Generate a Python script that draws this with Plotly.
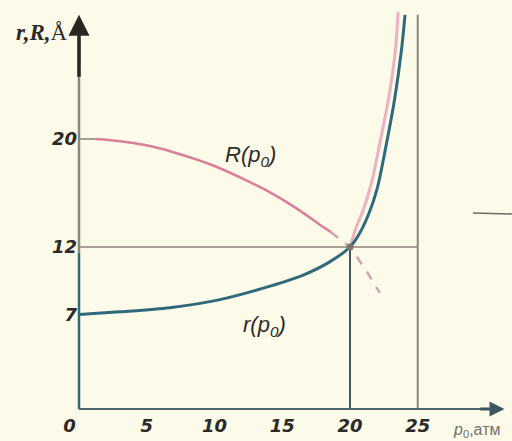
import plotly.graph_objects as go

# ---- data ----
p_r = [0, 3, 6.7, 10.4, 14.1, 16.5, 18.5, 20, 20.7, 21.4, 22, 22.7, 23.3, 23.8, 24.06]
r_vals = [7, 7.2, 7.5, 8.1, 9.1, 9.9, 10.9, 12, 13.0, 14.5, 16.3, 19.7, 23.0, 26.6, 29.2]

p_R = [1.2, 2, 4, 6, 8, 10, 12, 14, 16, 18, 18.6]
R_vals = [20, 19.95, 19.7, 19.3, 18.7, 18.0, 17.1, 16.1, 14.9, 13.5, 13.1]

p_R_dash = [18.6, 20, 21.1, 22.2]
R_dash = [13.1, 12, 10.4, 8.6]

p_R_up = [20, 20.4, 21.0, 21.6, 22.2, 22.85, 23.35, 23.55]
R_up = [12, 13.3, 14.8, 16.8, 19.7, 23.0, 26.6, 29.4]

x_ticks = [0, 5, 10, 15, 20, 25]
x_labels = ["0\u00a0\u00a0\u00a0", "5", "10", "15", "20", "25"]
y_ticks = [0, 7, 12, 20]
y_labels = ["", "7", "12", "20"]

p_cross, v_cross = 20, 12      # intersection point
p_right = 25                   # right vertical guide
y_top = 29.2
x_end = 31.4

BG = "#fcfae9"
BLUE = "#2f6a7c"
PINK = "#d97f97"
PINK_L = "#ebb2c2"
GRAY = "#8c857a"
DARK = "#3f5a64"

fig = go.Figure()

# upper light pink branch (behind blue)
fig.add_trace(go.Scatter(x=p_R_up, y=R_up, mode="lines",
                         line=dict(color=PINK_L, width=3, shape="spline", smoothing=0.8),
                         hoverinfo="skip"))
# R(p0) solid
fig.add_trace(go.Scatter(x=p_R, y=R_vals, mode="lines",
                         line=dict(color=PINK, width=2.5, shape="spline", smoothing=0.8),
                         hoverinfo="skip"))
# R dashed continuation
fig.add_trace(go.Scatter(x=p_R_dash, y=R_dash, mode="lines",
                         line=dict(color="#cfa6ad", width=2.5, dash="dash"),
                         hoverinfo="skip"))
# r(p0)
fig.add_trace(go.Scatter(x=p_r, y=r_vals, mode="lines",
                         line=dict(color=BLUE, width=3, shape="spline", smoothing=0.8),
                         hoverinfo="skip"))
# short gray tick at R(0)
fig.add_trace(go.Scatter(x=[0, p_R[0]], y=[R_vals[0], R_vals[0]], mode="lines",
                         line=dict(color="#a59c92", width=2), hoverinfo="skip"))
# intersection dot
fig.add_trace(go.Scatter(x=[p_cross], y=[v_cross], mode="markers",
                         marker=dict(color="#7d7468", size=7), hoverinfo="skip"))

shapes = [
    # guide lines
    dict(type="line", x0=0, x1=p_right, y0=v_cross, y1=v_cross,
         line=dict(color=GRAY, width=1.6), layer="below"),
    dict(type="line", x0=p_cross, x1=p_cross, y0=0, y1=v_cross,
         line=dict(color=DARK, width=2), layer="below"),
    dict(type="line", x0=p_right, x1=p_right, y0=0, y1=y_top,
         line=dict(color=GRAY, width=2), layer="below"),
    # y axis (segmented colours)
    dict(type="line", x0=0, x1=0, y0=0, y1=11.6, line=dict(color=BLUE, width=2.5)),
    dict(type="line", x0=0, x1=0, y0=11.6, y1=25.6, line=dict(color=GRAY, width=2.5)),
    dict(type="line", x0=0, x1=0, y0=25.6, y1=27.5, line=dict(color="#2a2622", width=2.5)),
    # x axis
    dict(type="line", x0=0, x1=30.5, y0=0, y1=0, line=dict(color="#4d6370", width=2)),
    # stray scan mark at right
    dict(type="line", xref="paper", yref="paper", x0=473/512, x1=1.0,
         y0=1-213/441, y1=1-214/441, line=dict(color="#6f6a62", width=1.6)),
]

annotations = [
    # axis arrows
    dict(x=0, y=y_top, ax=0, ay=24.5, xref="x", yref="y", axref="x", ayref="y",
         showarrow=True, arrowhead=2, arrowsize=1.2, arrowwidth=3.5,
         arrowcolor="#2a2622", text=""),
    dict(x=x_end, y=0, ax=29.5, ay=0, xref="x", yref="y", axref="x", ayref="y",
         showarrow=True, arrowhead=2, arrowsize=1.0, arrowwidth=3,
         arrowcolor="#3e5562", text=""),
    # axis titles
    dict(x=42/512, y=1-32/441, xref="paper", yref="paper", showarrow=False,
         xanchor="center", yanchor="middle",
         text="<b><i>r,R,</i></b>Å", font=dict(family="Liberation Serif", size=23, color="#2b2a28")),
    dict(x=476/512, y=1-430/441, xref="paper", yref="paper", showarrow=False,
         xanchor="center", yanchor="middle",
         text="<i>p</i><sub>0</sub>,атм", font=dict(family="Liberation Sans", size=16, color="#77706a")),
    # curve labels
    dict(x=250/512, y=1-156/441, xref="paper", yref="paper", showarrow=False,
         xanchor="center", yanchor="middle",
         text="<i>R(p<sub>0</sub>)</i>", font=dict(family="Liberation Sans", size=22, color="#2e2c2a")),
    dict(x=264/512, y=1-326/441, xref="paper", yref="paper", showarrow=False,
         xanchor="center", yanchor="middle",
         text="<i>r(p<sub>0</sub>)</i>", font=dict(family="Liberation Sans", size=22, color="#2e2c2a")),
]

tickfont = dict(family="DejaVu Sans", size=18, color="#2b2a28", style="italic", weight="bold")

fig.update_layout(
    width=512, height=441,
    margin=dict(l=0, r=0, t=0, b=0),
    paper_bgcolor=BG, plot_bgcolor=BG,
    showlegend=False,
    shapes=shapes, annotations=annotations,
    xaxis=dict(range=[-79/13.55, 433/13.55], showgrid=False, zeroline=False, showline=False,
               tickvals=x_ticks, ticktext=x_labels, ticks="", ticklabelstandoff=4,
               anchor="free", position=32/441, tickfont=tickfont, fixedrange=True),
    yaxis=dict(range=[-32/13.5, 409/13.5], showgrid=False, zeroline=False, showline=False,
               tickvals=y_ticks, ticktext=y_labels, ticks="", ticklabelstandoff=2,
               anchor="free", position=79/512, tickfont=tickfont, fixedrange=True),
)

fig.write_html("out.html", config={"displayModeBar": False},
               post_script="document.body.style.margin='0';document.body.style.background='#fcfae9';")
